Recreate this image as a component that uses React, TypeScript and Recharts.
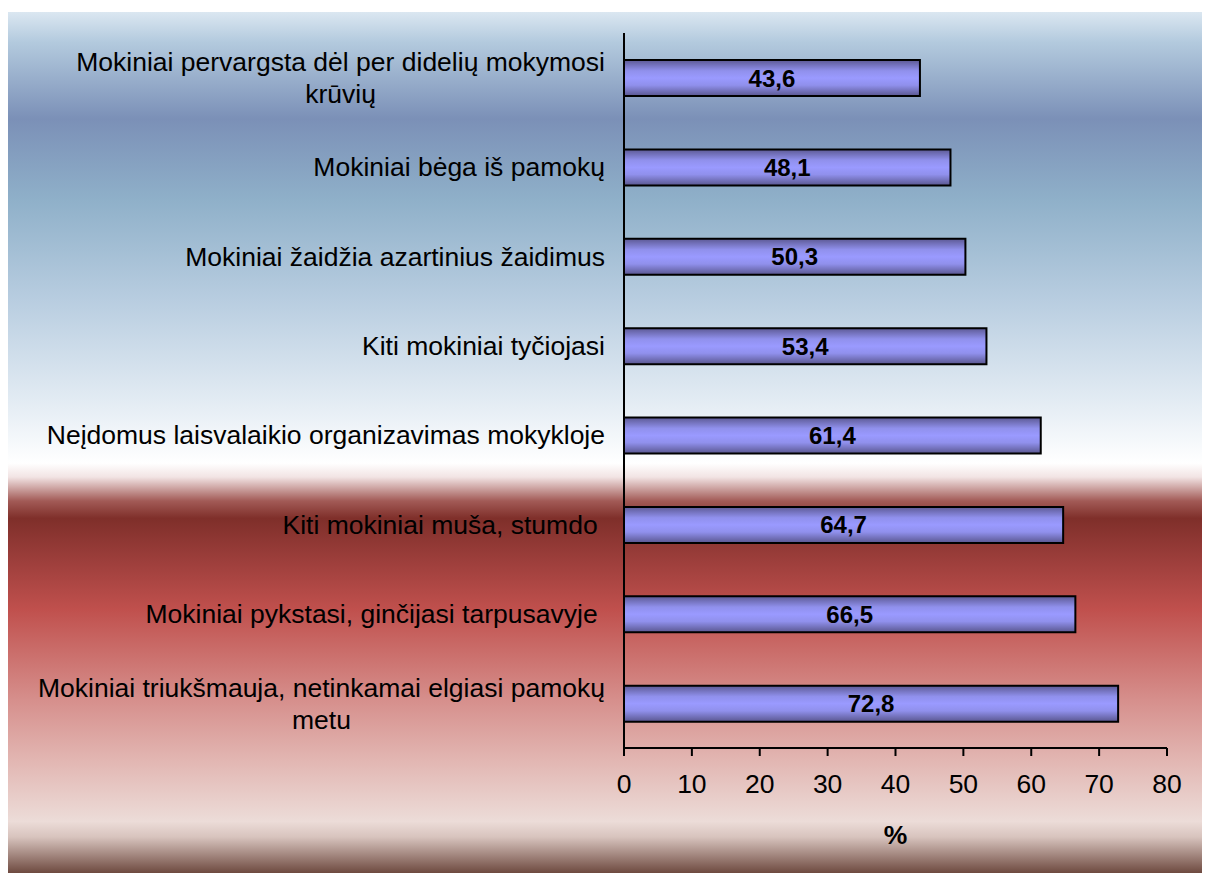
import React from 'react';
import { BarChart, Bar, XAxis, YAxis, LabelList, Label } from 'recharts';

const categories = [
  'Mokiniai pervargsta dėl per didelių mokymosi krūvių',
  'Mokiniai bėga iš pamokų',
  'Mokiniai žaidžia azartinius žaidimus',
  'Kiti mokiniai tyčiojasi',
  'Neįdomus laisvalaikio organizavimas mokykloje',
  'Kiti mokiniai muša, stumdo ',
  'Mokiniai pykstasi, ginčijasi tarpusavyje ',
  'Mokiniai triukšmauja, netinkamai elgiasi pamokų metu',
];
const values = [43.6, 48.1, 50.3, 53.4, 61.4, 64.7, 66.5, 72.8];
const xTicks = [0, 10, 20, 30, 40, 50, 60, 70, 80];

const data = categories.map((name, i) => ({ name, value: values[i] }));

const FONT = "'Liberation Sans', Arial, sans-serif";
const LABEL_SIZE = 26.5;
const WRAP_WIDTH = 585;

let ctx: CanvasRenderingContext2D | null = null;
const measure = (s: string) => {
  if (!ctx) {
    ctx = document.createElement('canvas').getContext('2d');
  }
  if (!ctx) return s.length * 12;
  ctx.font = `${LABEL_SIZE}px 'Liberation Sans'`;
  return ctx.measureText(s).width;
};

const wrap = (text: string) => {
  const words = text.trim().split(' ');
  const lines: string[] = [];
  let cur = '';
  words.forEach((w) => {
    const next = cur ? cur + ' ' + w : w;
    if (measure(next) > WRAP_WIDTH && cur) {
      lines.push(cur);
      cur = w;
    } else {
      cur = next;
    }
  });
  if (cur) lines.push(cur);
  return lines;
};

const CategoryTick = (props: any) => {
  const { x, y, payload } = props;
  const raw: string = payload.value;
  const lines = wrap(raw);
  const trailing = raw.endsWith(' ') ? measure(' ') : 0;
  const widest = Math.max(...lines.map(measure)) + trailing;
  const cx = x - widest / 2;
  const lineH = 32;
  const startY = y - ((lines.length - 1) * lineH) / 2;
  return (
    <g>
      {lines.map((l, i) => (
        <text
          key={i}
          x={lines.length > 1 ? cx : x - trailing}
          y={startY + i * lineH}
          dy="0.35em"
          textAnchor={lines.length > 1 ? 'middle' : 'end'}
          fontSize={LABEL_SIZE}
          fontFamily={FONT}
          fill="#000"
        >
          {l}
        </text>
      ))}
    </g>
  );
};

const background =
  'linear-gradient(to bottom, #dbe7f1 0%, #b3cade 3.5%, #7b90b7 12.4%, #8fb0c9 21.8%, #b8cde0 33.4%, #e2ebf3 45%, #ffffff 52.4%, #f2e4e4 54%, #a25a56 56.8%, #7f2f2a 58.8%, #9c3e3b 63.6%, #c0504d 69.4%, #d68f8c 79.9%, #e2b6b2 86.9%, #ecdcd8 94%, #d8c4be 95.8%, #6e4a40 100%)';

export default function App() {
  return (
    <div style={{ marginTop: 4, width: 1199, height: 861, background }}>
      <BarChart
        width={1199}
        height={861}
        data={data}
        layout="vertical"
        margin={{ top: 21, right: 40, bottom: 25, left: 16 }}
      >
        <defs>
          <linearGradient id="barFill" x1="0" y1="0" x2="0" y2="1">
            <stop offset="0%" stopColor="#5c5994" />
            <stop offset="30%" stopColor="#9090ec" />
            <stop offset="50%" stopColor="#9a9aff" />
            <stop offset="70%" stopColor="#9090ec" />
            <stop offset="100%" stopColor="#5a5790" />
          </linearGradient>
        </defs>
        <XAxis
          type="number"
          domain={[0, 80]}
          ticks={xTicks}
          interval={0}
          height={100}
          stroke="#000"
          strokeWidth={2}
          tickSize={8}
          tickMargin={18}
          tick={{ fill: '#000', fontSize: 26.5, fontFamily: FONT }}
        >
          <Label
            value="%"
            position="insideBottom"
            offset={4}
            style={{ fill: '#000', fontSize: 26.5, fontWeight: 'bold', fontFamily: FONT }}
          />
        </XAxis>
        <YAxis
          type="category"
          dataKey="name"
          width={600}
          stroke="#000"
          strokeWidth={2}
          tickLine={false}
          tickSize={0}
          tickMargin={19}
          interval={0}
          tick={<CategoryTick />}
        />
        <Bar
          dataKey="value"
          barSize={36}
          fill="url(#barFill)"
          stroke="#000"
          strokeWidth={2}
          isAnimationActive={false}
        >
          <LabelList
            dataKey="value"
            position="center"
            formatter={(v: any) => String(v).replace('.', ',')}
            style={{ fill: '#000', fontSize: 24, fontWeight: 'bold', fontFamily: FONT }}
          />
        </Bar>
      </BarChart>
    </div>
  );
}
